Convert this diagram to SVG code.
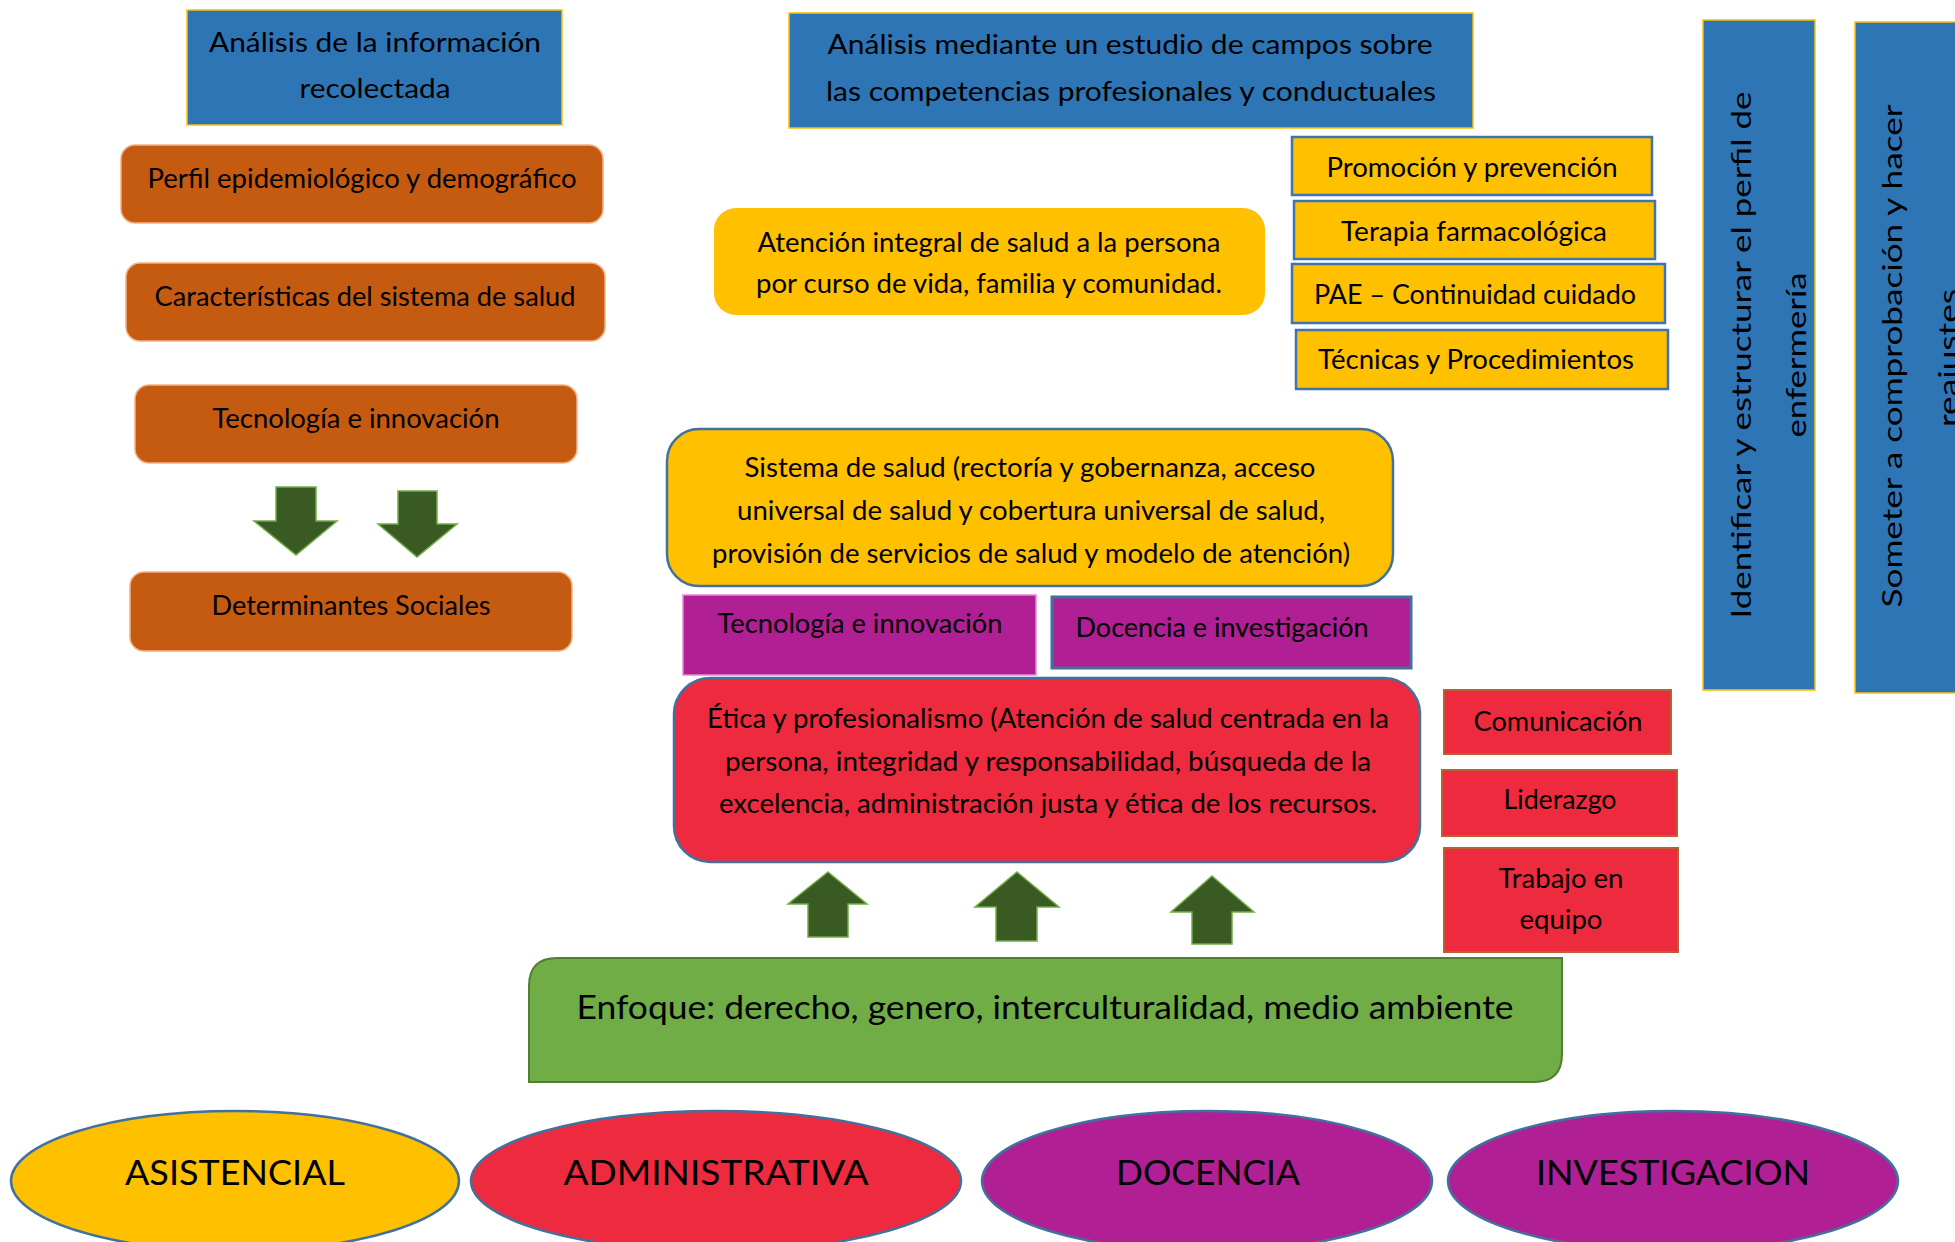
<svg xmlns="http://www.w3.org/2000/svg" width="1955" height="1242" viewBox="0 0 1955 1242">
<style>
text{font-family:Lato,"Open Sans","Liberation Sans",sans-serif;font-size:27px;fill:#000;text-anchor:middle}
.blue{fill:#2E75B6;stroke:#FFC000;stroke-width:1.5}
.orange{fill:#C55A11;stroke:#F4B183;stroke-width:1.5}
.yel{fill:#FFC000;stroke:#3F74B0;stroke-width:2.5}
.purple{fill:#B11F94}
.red{fill:#EE2B3E}
.redsm{fill:#EE2B3E;stroke:#B8602E;stroke-width:2}
.arrow{fill:#3A5A24;stroke:#70AD47;stroke-width:1.5}
.oval{stroke:#41719C;stroke-width:2.5}
.big{font-size:33px}
.ov{font-size:35px}
</style>

<g id="n-analisis-info">
<rect class="blue" x="187" y="10" width="375" height="115"/>
<text x="375" y="52" textLength="332" lengthAdjust="spacingAndGlyphs">Análisis de la información</text>
<text x="375" y="98" textLength="151" lengthAdjust="spacingAndGlyphs">recolectada</text>
</g>
<g id="n-perfil">
<rect class="orange" x="121" y="145" width="482" height="78" rx="14"/>
<text x="362" y="188" textLength="429" lengthAdjust="spacingAndGlyphs">Perfil epidemiológico y demográfico</text>
</g>
<g id="n-caracteristicas">
<rect class="orange" x="126" y="263" width="479" height="78" rx="14"/>
<text x="365" y="306" textLength="421" lengthAdjust="spacingAndGlyphs">Características del sistema de salud</text>
</g>
<g id="n-tecnologia1">
<rect class="orange" x="135" y="385" width="442" height="78" rx="14"/>
<text x="356" y="428" textLength="287" lengthAdjust="spacingAndGlyphs">Tecnología e innovación</text>
</g>
<g id="n-determinantes">
<rect class="orange" x="130" y="572" width="442" height="79" rx="14"/>
<text x="351" y="615" textLength="279" lengthAdjust="spacingAndGlyphs">Determinantes Sociales</text>
</g>

<g id="n-analisis-campos">
<rect class="blue" x="789" y="13" width="684" height="115"/>
<text x="1130" y="54" textLength="605" lengthAdjust="spacingAndGlyphs">Análisis mediante un estudio de campos sobre</text>
<text x="1131" y="101" textLength="610" lengthAdjust="spacingAndGlyphs">las competencias profesionales y conductuales</text>
</g>
<g id="n-promocion">
<rect class="yel" x="1292" y="137" width="360" height="58"/>
<text x="1472" y="177" textLength="291" lengthAdjust="spacingAndGlyphs">Promoción y prevención</text>
</g>
<g id="n-terapia">
<rect class="yel" x="1294" y="201" width="361" height="58"/>
<text x="1474" y="241" textLength="266" lengthAdjust="spacingAndGlyphs">Terapia farmacológica</text>
</g>
<g id="n-pae">
<rect class="yel" x="1292" y="264" width="373" height="59"/>
<text x="1475" y="304" textLength="322" lengthAdjust="spacingAndGlyphs">PAE – Continuidad cuidado</text>
</g>
<g id="n-tecnicas">
<rect class="yel" x="1296" y="330" width="372" height="59"/>
<text x="1476" y="369" textLength="316" lengthAdjust="spacingAndGlyphs">Técnicas y Procedimientos</text>
</g>
<g id="n-atencion">
<rect x="714" y="208" width="551" height="107" rx="22" fill="#FFC000"/>
<text x="989" y="252" textLength="463" lengthAdjust="spacingAndGlyphs">Atención integral de salud a la persona</text>
<text x="989" y="293" textLength="466" lengthAdjust="spacingAndGlyphs">por curso de vida, familia y comunidad.</text>
</g>
<g id="n-sistema">
<rect x="667" y="429" width="726" height="157" rx="32" fill="#FFC000" stroke="#41719C" stroke-width="2.5"/>
<text x="1030" y="477" textLength="571" lengthAdjust="spacingAndGlyphs">Sistema de salud (rectoría y gobernanza, acceso</text>
<text x="1031" y="520" textLength="588" lengthAdjust="spacingAndGlyphs">universal de salud y cobertura universal de salud,</text>
<text x="1031" y="563" textLength="638" lengthAdjust="spacingAndGlyphs">provisión de servicios de salud y modelo de atención)</text>
</g>
<g id="n-tecnologia2">
<rect class="purple" x="683" y="595" width="353" height="80" stroke="#E68AD3" stroke-width="1.5"/>
<text x="860" y="633" textLength="285" lengthAdjust="spacingAndGlyphs">Tecnología e innovación</text>
</g>
<g id="n-docencia-inv">
<rect class="purple" x="1052" y="597" width="359" height="71" stroke="#41719C" stroke-width="3"/>
<text x="1222" y="637" textLength="293" lengthAdjust="spacingAndGlyphs">Docencia e investigación</text>
</g>
<g id="n-etica">
<rect class="red" x="674" y="678" width="746" height="184" rx="36" stroke="#41719C" stroke-width="2.5"/>
<text x="1048" y="728" textLength="682" lengthAdjust="spacingAndGlyphs">Ética y profesionalismo (Atención de salud centrada en la</text>
<text x="1048" y="771" textLength="646" lengthAdjust="spacingAndGlyphs">persona, integridad y responsabilidad, búsqueda de la</text>
<text x="1048" y="813" textLength="658" lengthAdjust="spacingAndGlyphs">excelencia, administración justa y ética de los recursos.</text>
</g>
<g id="n-comunicacion">
<rect class="redsm" x="1444" y="690" width="227" height="64"/>
<text x="1558" y="731" textLength="169" lengthAdjust="spacingAndGlyphs">Comunicación</text>
</g>
<g id="n-liderazgo">
<rect class="redsm" x="1442" y="770" width="235" height="66"/>
<text x="1560" y="809" textLength="113" lengthAdjust="spacingAndGlyphs">Liderazgo</text>
</g>
<g id="n-trabajo">
<rect class="redsm" x="1444" y="848" width="234" height="104"/>
<text x="1561" y="888" textLength="125" lengthAdjust="spacingAndGlyphs">Trabajo en</text>
<text x="1561" y="929" textLength="83" lengthAdjust="spacingAndGlyphs">equipo</text>
</g>
<g id="n-enfoque">
<path d="M557,958 H1562 V1054 Q1562,1082 1534,1082 H529 V986 Q529,958 557,958 Z" fill="#70AD47" stroke="#507E32" stroke-width="2"/>
<text class="big" x="1045" y="1019" textLength="937" lengthAdjust="spacingAndGlyphs">Enfoque: derecho, genero, interculturalidad, medio ambiente</text>
</g>

<g id="n-identificar">
<rect class="blue" x="1703" y="20" width="112" height="670"/>
<text transform="translate(1751,355) rotate(-90)" x="0" y="0" textLength="527" lengthAdjust="spacingAndGlyphs">Identificar y estructurar el perfil de</text>
<text transform="translate(1806,355) rotate(-90)" x="0" y="0" textLength="165" lengthAdjust="spacingAndGlyphs">enfermería</text>
</g>
<g id="n-someter">
<rect class="blue" x="1855" y="22" width="110" height="671"/>
<text transform="translate(1902,356) rotate(-90)" x="0" y="0" textLength="503" lengthAdjust="spacingAndGlyphs">Someter a comprobación y hacer</text>
<text transform="translate(1958,358) rotate(-90)" x="0" y="0" textLength="138" lengthAdjust="spacingAndGlyphs">reajustes</text>
</g>

<g id="n-asistencial">
<ellipse class="oval" cx="235" cy="1181" rx="224" ry="70" fill="#FFC000"/>
<text class="ov" x="235" y="1185" textLength="220" lengthAdjust="spacingAndGlyphs">ASISTENCIAL</text>
</g>
<g id="n-administrativa">
<ellipse class="oval" cx="716" cy="1181" rx="245" ry="70" fill="#EE2B3E"/>
<text class="ov" x="716" y="1185" textLength="305" lengthAdjust="spacingAndGlyphs">ADMINISTRATIVA</text>
</g>
<g id="n-docencia">
<ellipse class="oval" cx="1207" cy="1181" rx="225" ry="70" fill="#B11F94"/>
<text class="ov" x="1208" y="1185" textLength="184" lengthAdjust="spacingAndGlyphs">DOCENCIA</text>
</g>
<g id="n-investigacion">
<ellipse class="oval" cx="1673" cy="1181" rx="225" ry="70" fill="#B11F94"/>
<text class="ov" x="1673" y="1185" textLength="274" lengthAdjust="spacingAndGlyphs">INVESTIGACION</text>
</g>

<g id="connectors">
<path class="arrow" d="M276,487 H316 V521 H337 L296,555 L254,521 H276 Z"/>
<path class="arrow" d="M398,491 H437 V524 H457 L417,557 L378,524 H398 Z"/>
<path class="arrow" d="M828,872 L867,904 H848 V937 H808 V904 H788 Z"/>
<path class="arrow" d="M1017,872 L1059,907 H1037 V941 H996 V907 H975 Z"/>
<path class="arrow" d="M1212,876 L1254,912 H1232 V944 H1192 V912 H1171 Z"/>
</g>
</svg>
